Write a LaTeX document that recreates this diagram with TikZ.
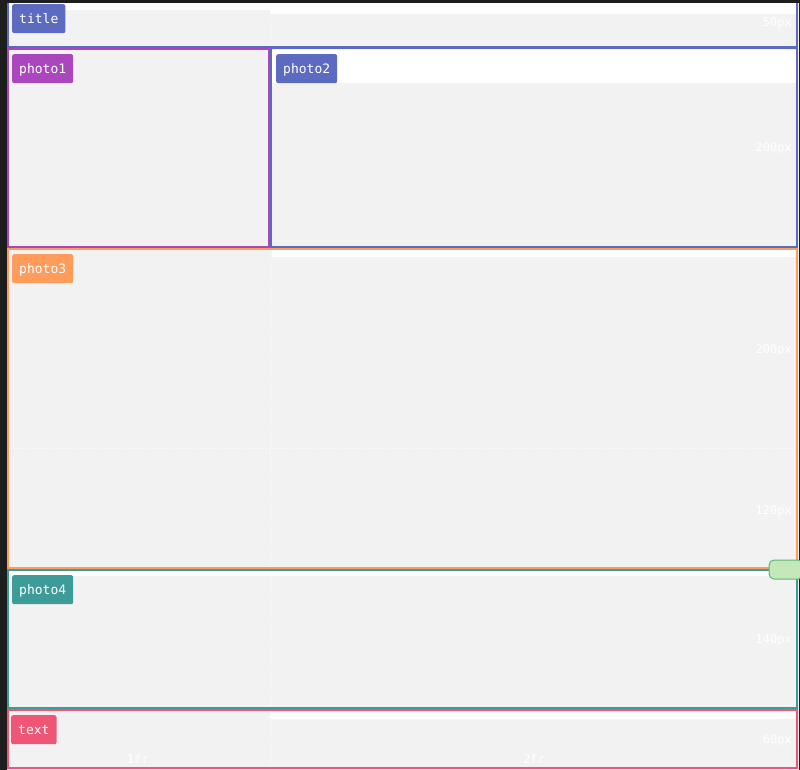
\documentclass[tikz,border=0pt]{standalone}
\usepackage{fontspec}
\setmonofont{DejaVu Sans Mono}
\definecolor{darkbg}{HTML}{1E1E1E}
\definecolor{gridbg}{HTML}{F2F2F2}
\definecolor{cindigo}{HTML}{5C6BC0}
\definecolor{cpurple}{HTML}{AB47BC}
\definecolor{corange}{HTML}{FF9C5B}
\definecolor{cteal}{HTML}{3D9B98}
\definecolor{cred}{HTML}{EF5675}
\definecolor{pillfill}{HTML}{C3E8B9}
\definecolor{pilldraw}{HTML}{5CB874}
\tikzset{
  tag/.style={anchor=north west, rounded corners=2pt, text=white, font=\ttfamily\fontsize{13}{14}\selectfont,
    inner xsep=7pt, inner ysep=0pt, minimum height=29pt, text depth=0pt},
  area/.style={line width=2pt},
  gridline/.style={white, dotted, line width=1pt},
  sizelabel/.style={text=white, font=\ttfamily\fontsize{12}{13}\selectfont, inner sep=0pt}
}
\begin{document}
\begin{tikzpicture}[x=1pt,y=-1pt]
\useasboundingbox (0,0) rectangle (800,770);
\fill[darkbg] (0,0) rectangle (800,770);
\fill[gridbg] (7,3) rectangle (799,770);
% image bands
\fill[white] (8,3) rectangle (797,10);
\fill[white] (270,3) rectangle (797,14);
\fill[white] (272,50) rectangle (797,83);
\fill[white] (272,250) rectangle (797,257);
\fill[white] (8,571) rectangle (770,576);
\fill[white] (270,712) rectangle (797,719);
% grid lines
\draw[gridline] (270,3) -- (270,770);
\draw[gridline] (8,448) -- (797,448);
% areas
\draw[area, cindigo] (8,3) -- (8,47) -- (797,47) -- (797,3);
\draw[area, cpurple] (8,49) rectangle (269,247);
\draw[area, cindigo] (271,48) rectangle (797,247);
\draw[area, corange] (8,249) rectangle (797,568);
\draw[area, cteal] (8,570) rectangle (797,708);
\draw[area, cred] (8,710) rectangle (797,768);
% size labels
\node[sizelabel, anchor=east] (l50) at (792,23) {50px};
\node[sizelabel, anchor=east] (l200a) at (792,148) {200px};
\node[sizelabel, anchor=east] (l200b) at (792,350) {200px};
\node[sizelabel, anchor=east] (l120) at (792,511) {120px};
\node[sizelabel, anchor=east] (l140) at (792,640) {140px};
\node[sizelabel, anchor=east] (l60) at (792,740) {60px};
\node[sizelabel] (lfr1) at (138,759) {1fr};
\node[sizelabel] (lfr2) at (534,759) {2fr};
\node[sizelabel, font=\ttfamily\fontsize{8}{8}\selectfont] (n2) at (268,8) {2};
\node[sizelabel, font=\ttfamily\fontsize{8}{8}\selectfont] (n3) at (791,7) {3};
% tags
\node[tag, fill=cindigo] (ttitle) at (12,4) {title};
\node[tag, fill=cpurple] (tphoto1) at (12,54) {photo1};
\node[tag, fill=cindigo] (tphoto2) at (276,54) {photo2};
\node[tag, fill=corange] (tphoto3) at (12,254) {photo3};
\node[tag, fill=cteal] (tphoto4) at (12,575) {photo4};
\node[tag, fill=cred] (ttext) at (11,715) {text};
% pill
\draw[pilldraw, fill=pillfill, rounded corners=5pt, line width=1pt] (769,560) rectangle (803,579);
\end{tikzpicture}
\end{document}
